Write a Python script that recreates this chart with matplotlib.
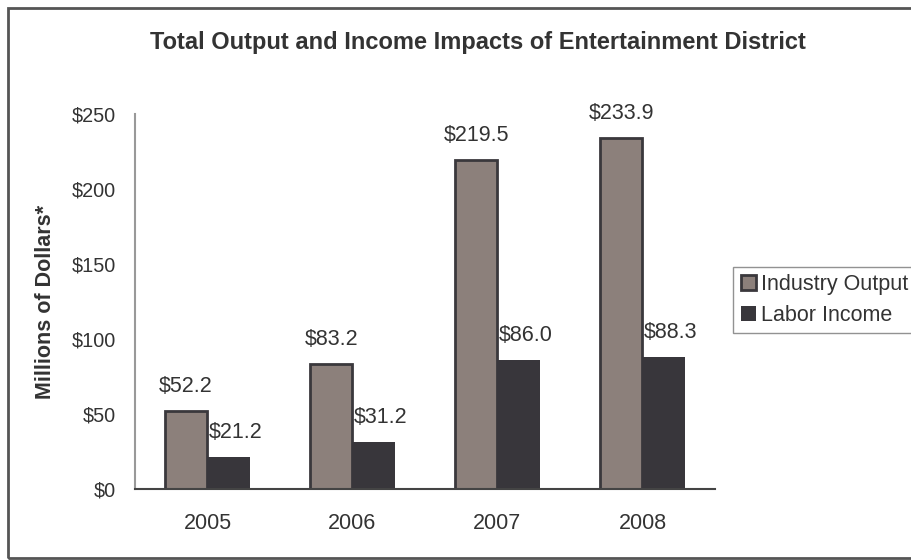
import numpy as np
import matplotlib.pyplot as plt
from matplotlib.patches import Rectangle

plt.rcParams['font.family'] = ['Liberation Sans', 'DejaVu Sans']

years = ['2005', '2006', '2007', '2008']
industry_output = [52.2, 83.2, 219.5, 233.9]
labor_income = [21.2, 31.2, 86.0, 88.3]
series_names = ['Industry Output', 'Labor Income']

fs = 15.5
fig = plt.figure(figsize=(9.12, 5.6), dpi=100)
ax = fig.add_axes([135 / 912, 1 - 489 / 560, 580 / 912, 375 / 560])

x = np.arange(len(years))
w = 0.295
b1 = ax.bar(x - w / 2, industry_output, w, color='#8c807b', edgecolor='#3a383c',
            linewidth=2, label=series_names[0])
b2 = ax.bar(x + w / 2, labor_income, w, color='#38363b', edgecolor='#38363b',
            linewidth=0, label=series_names[1])

# value labels above the bars (labor labels sit a bit to the right, like Excel)
for bars, vals, dx in ((b1, industry_output, 0), (b2, labor_income, 5)):
    for r, v in zip(bars, vals):
        ax.annotate(f'${v:.1f}', (r.get_x() + r.get_width() / 2, v),
                    xytext=(dx, 10), textcoords='offset points',
                    ha='center', va='bottom', fontsize=fs, color='#333333')

ax.set_xlim(-0.5, 3.5)
ax.set_ylim(0, 250)
ax.set_yticks(range(0, 251, 50))
ax.set_yticklabels([f'${t}' for t in range(0, 251, 50)])
ax.set_xticks(x)
ax.set_xticklabels(years)
ax.tick_params(length=0, colors='#333333')
ax.tick_params(axis='y', pad=14, labelsize=14.3)
ax.tick_params(axis='x', pad=17, labelsize=fs)

for s in ('top', 'right'):
    ax.spines[s].set_visible(False)
ax.spines['left'].set_color('#999999')
ax.spines['left'].set_linewidth(1.5)
ax.spines['bottom'].set_color('#444444')
ax.spines['bottom'].set_linewidth(1.5)

ax.set_ylabel('Millions of Dollars*', fontsize=fs, fontweight='bold',
              color='#333333', labelpad=11)
fig.text(478 / 912, 1 - 43 / 560,
         'Total Output and Income Impacts of Entertainment District',
         ha='center', va='center', fontsize=17, fontweight='bold', color='#333333')

leg = fig.legend(loc='center left', bbox_to_anchor=(733 / 912, 1 - 300 / 560),
                 fontsize=fs, frameon=True, fancybox=False, handlelength=0.7,
                 handleheight=0.7, handletextpad=0.25, borderpad=0.35,
                 labelspacing=0.45, borderaxespad=0)
leg.get_frame().set_edgecolor('#777777')
leg.get_frame().set_linewidth(1)
for t in leg.get_texts():
    t.set_color('#333333')

fig.patches.append(Rectangle((8 / 912, 0.003), 1.0, 1 - 8 / 560 - 0.003,
                             transform=fig.transFigure, fill=False,
                             edgecolor='#555555', linewidth=2))

fig.savefig('out.png', dpi=100)
